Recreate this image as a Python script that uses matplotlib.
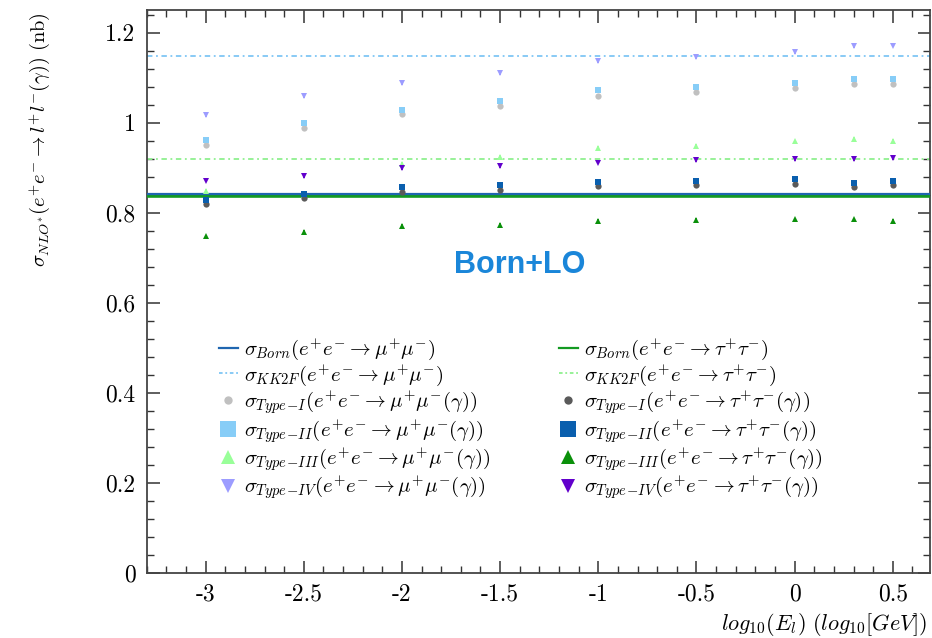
import matplotlib
matplotlib.use("Agg")
import matplotlib.pyplot as plt
from matplotlib.lines import Line2D
from matplotlib.ticker import MultipleLocator

plt.rcParams['mathtext.fontset'] = 'cm'
plt.rcParams['font.family'] = ['cmr10', 'DejaVu Serif']
plt.rcParams['axes.unicode_minus'] = False

# ---- data ----
x_vals = [-3.0, -2.5, -2.0, -1.5, -1.0, -0.5, 0.0, 0.301, 0.5]
born_mu = 0.838
born_tau = 0.836
kk2f_mu = 1.147
kk2f_tau = 0.919
type1_mu = [0.951, 0.988, 1.018, 1.036, 1.060, 1.067, 1.076, 1.085, 1.085]
type2_mu = [0.962, 0.999, 1.028, 1.047, 1.072, 1.079, 1.088, 1.096, 1.096]
type3_mu = [0.848, 0.838, 0.909, 0.923, 0.944, 0.949, 0.958, 0.964, 0.959]
type4_mu = [1.016, 1.058, 1.088, 1.110, 1.137, 1.146, 1.157, 1.169, 1.171]
type1_tau = [0.820, 0.832, 0.846, 0.851, 0.858, 0.861, 0.864, 0.857, 0.861]
type2_tau = [0.828, 0.842, 0.857, 0.861, 0.867, 0.870, 0.874, 0.866, 0.871]
type3_tau = [0.747, 0.757, 0.771, 0.773, 0.781, 0.783, 0.785, 0.785, 0.782]
type4_tau = [0.871, 0.881, 0.899, 0.904, 0.911, 0.916, 0.919, 0.918, 0.921]
err = 0.004

xticks = [-3, -2.5, -2, -1.5, -1, -0.5, 0, 0.5]
xtick_labels = ['-3', '-2.5', '-2', '-1.5', '-1', '-0.5', '0', '0.5']
yticks = [0, 0.2, 0.4, 0.6, 0.8, 1.0, 1.2]
ytick_labels = ['0', '0.2', '0.4', '0.6', '0.8', '1', '1.2']

fig = plt.figure(figsize=(9.32, 6.38), dpi=100)
ax = fig.add_axes([0.1574, 0.1024, 0.8406, 0.8819])

c_born_mu = '#1f66b0'
c_born_tau = '#139a22'
c_kk_mu = '#7fc6f5'
c_kk_tau = '#8ff08f'

ax.axhline(born_tau, color=c_born_tau, lw=2.6, zorder=3)
ax.axhline(born_mu + 0.003, color=c_born_mu, lw=1.6, zorder=3)
ax.axhline(kk2f_mu, color=c_kk_mu, lw=1.3, dashes=[3, 2, 1, 2], zorder=2)
ax.axhline(kk2f_tau, color=c_kk_tau, lw=1.3, dashes=[3, 2, 1, 2], zorder=2)

series = [
    (type1_mu, 'o', '#c0c0c0'),
    (type2_mu, 's', '#87cdf7'),
    (type3_mu, '^', '#99ff99'),
    (type4_mu, 'v', '#9c9cff'),
    (type1_tau, 'o', '#5a5a5a'),
    (type2_tau, 's', '#0a5fae'),
    (type3_tau, '^', '#0a900a'),
    (type4_tau, 'v', '#6200cc'),
]
for vals, m, c in series:
    ax.errorbar(x_vals, vals, yerr=err, fmt=m, color=c, ms=4.5, mew=0,
                capsize=3, elinewidth=1.2, capthick=1.2, zorder=4)

ax.set_xlim(-3.3, 0.69)
ax.set_ylim(0, 1.25)
ax.set_xticks(xticks)
ax.set_xticklabels(xtick_labels)
ax.set_yticks(yticks)
ax.set_yticklabels(ytick_labels)
ax.xaxis.set_minor_locator(MultipleLocator(0.1))
ax.yaxis.set_minor_locator(MultipleLocator(0.04))
ax.tick_params(which='both', direction='in', top=True, right=True, labelsize=17,
               color='#333333')
ax.tick_params(which='major', length=9, width=1.1, pad=8)
ax.tick_params(which='minor', length=5, width=1.0)
for s in ax.spines.values():
    s.set_linewidth(1.3)
    s.set_color('#444444')

fig.text(0.043, 1 - 12 / 638,
         r'$\sigma_{NLO^{*}}(e^{+}e^{-}\rightarrow l^{+}l^{-}(\gamma))\ \mathrm{(nb)}$',
         fontsize=14.7, rotation=90, ha='center', va='top')
fig.text(0.995, 0.0, r'$log_{10}(E_l)\ (log_{10}[GeV])$', fontsize=16,
         ha='right', va='bottom')

ax.text(-1.40, 0.683, 'Born+LO', color='#1a86d9', fontsize=22, fontweight='bold',
        family='Liberation Sans', ha='center', va='center')

handles = [
    Line2D([], [], color=c_born_mu, lw=1.6),
    Line2D([], [], color=c_kk_mu, lw=1.3, dashes=[2, 1.5, 1, 1.5]),
    Line2D([], [], color='#c0c0c0', marker='o', ls='none', ms=6, mew=0),
    Line2D([], [], color='#87cdf7', marker='s', ls='none', ms=11, mew=0),
    Line2D([], [], color='#99ff99', marker='^', ls='none', ms=10, mew=0),
    Line2D([], [], color='#9c9cff', marker='v', ls='none', ms=10, mew=0),
    Line2D([], [], color=c_born_tau, lw=1.6),
    Line2D([], [], color=c_kk_tau, lw=1.3, dashes=[2, 1.5, 1, 1.5]),
    Line2D([], [], color='#5a5a5a', marker='o', ls='none', ms=6, mew=0),
    Line2D([], [], color='#0a5fae', marker='s', ls='none', ms=11, mew=0),
    Line2D([], [], color='#0a900a', marker='^', ls='none', ms=10, mew=0),
    Line2D([], [], color='#6200cc', marker='v', ls='none', ms=10, mew=0),
]
labels = [
    r'$\sigma_{Born}(e^{+}e^{-}\rightarrow\mu^{+}\mu^{-})$',
    r'$\sigma_{KK2F}(e^{+}e^{-}\rightarrow\mu^{+}\mu^{-})$',
    r'$\sigma_{Type\!-\!I}(e^{+}e^{-}\rightarrow\mu^{+}\mu^{-}(\gamma))$',
    r'$\sigma_{Type\!-\!II}(e^{+}e^{-}\rightarrow\mu^{+}\mu^{-}(\gamma))$',
    r'$\sigma_{Type\!-\!III}(e^{+}e^{-}\rightarrow\mu^{+}\mu^{-}(\gamma))$',
    r'$\sigma_{Type\!-\!IV}(e^{+}e^{-}\rightarrow\mu^{+}\mu^{-}(\gamma))$',
    r'$\sigma_{Born}(e^{+}e^{-}\rightarrow\tau^{+}\tau^{-})$',
    r'$\sigma_{KK2F}(e^{+}e^{-}\rightarrow\tau^{+}\tau^{-})$',
    r'$\sigma_{Type\!-\!I}(e^{+}e^{-}\rightarrow\tau^{+}\tau^{-}(\gamma))$',
    r'$\sigma_{Type\!-\!II}(e^{+}e^{-}\rightarrow\tau^{+}\tau^{-}(\gamma))$',
    r'$\sigma_{Type\!-\!III}(e^{+}e^{-}\rightarrow\tau^{+}\tau^{-}(\gamma))$',
    r'$\sigma_{Type\!-\!IV}(e^{+}e^{-}\rightarrow\tau^{+}\tau^{-}(\gamma))$',
]
ax.legend(handles, labels, ncol=2, frameon=False, fontsize=15,
          loc='upper left', bbox_to_anchor=(0.071, 0.449),
          handlelength=0.9, handletextpad=0.3, columnspacing=3.3,
          labelspacing=0.03, borderpad=0.3)

fig.savefig('out.png', dpi=100)
